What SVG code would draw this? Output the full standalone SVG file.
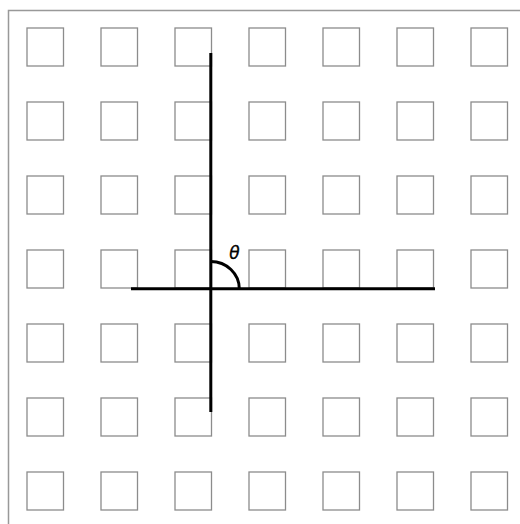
<svg xmlns="http://www.w3.org/2000/svg" width="520" height="524" viewBox="0 0 520 524">
<style>
.sq{fill:none;stroke:#8c8c8c;stroke-width:1.3}
.frame{fill:none;stroke:#999;stroke-width:1.5}
.ax{fill:none;stroke:#000;stroke-width:3}
.lbl{font-family:"DejaVu Sans",sans-serif;font-style:italic;font-size:17px;fill:#000;stroke:#000;stroke-width:0.3}
</style>
<defs><rect id="s" width="36.5" height="38" class="sq"/></defs>
<rect width="520" height="524" fill="#fff"/>
<path class="frame" d="M8.5 524V10.5H520"/>
<g id="grid">
<use href="#s" x="27" y="28"/><use href="#s" x="101" y="28"/><use href="#s" x="175" y="28"/><use href="#s" x="249" y="28"/><use href="#s" x="323" y="28"/><use href="#s" x="397" y="28"/><use href="#s" x="471" y="28"/>
<use href="#s" x="27" y="102"/><use href="#s" x="101" y="102"/><use href="#s" x="175" y="102"/><use href="#s" x="249" y="102"/><use href="#s" x="323" y="102"/><use href="#s" x="397" y="102"/><use href="#s" x="471" y="102"/>
<use href="#s" x="27" y="176"/><use href="#s" x="101" y="176"/><use href="#s" x="175" y="176"/><use href="#s" x="249" y="176"/><use href="#s" x="323" y="176"/><use href="#s" x="397" y="176"/><use href="#s" x="471" y="176"/>
<use href="#s" x="27" y="250"/><use href="#s" x="101" y="250"/><use href="#s" x="175" y="250"/><use href="#s" x="249" y="250"/><use href="#s" x="323" y="250"/><use href="#s" x="397" y="250"/><use href="#s" x="471" y="250"/>
<use href="#s" x="27" y="324"/><use href="#s" x="101" y="324"/><use href="#s" x="175" y="324"/><use href="#s" x="249" y="324"/><use href="#s" x="323" y="324"/><use href="#s" x="397" y="324"/><use href="#s" x="471" y="324"/>
<use href="#s" x="27" y="398"/><use href="#s" x="101" y="398"/><use href="#s" x="175" y="398"/><use href="#s" x="249" y="398"/><use href="#s" x="323" y="398"/><use href="#s" x="397" y="398"/><use href="#s" x="471" y="398"/>
<use href="#s" x="27" y="472"/><use href="#s" x="101" y="472"/><use href="#s" x="175" y="472"/><use href="#s" x="249" y="472"/><use href="#s" x="323" y="472"/><use href="#s" x="397" y="472"/><use href="#s" x="471" y="472"/>
</g>
<g id="axes">
<line class="ax" x1="210.8" y1="53" x2="210.8" y2="412"/>
<line class="ax" x1="131" y1="288.8" x2="435" y2="288.8"/>
<path class="ax" d="M210.8 261.5A28.5 27.3 0 0 1 239.3 288.8"/>
</g>
<text class="lbl" x="234.5" y="259" text-anchor="middle">θ</text>
</svg>
